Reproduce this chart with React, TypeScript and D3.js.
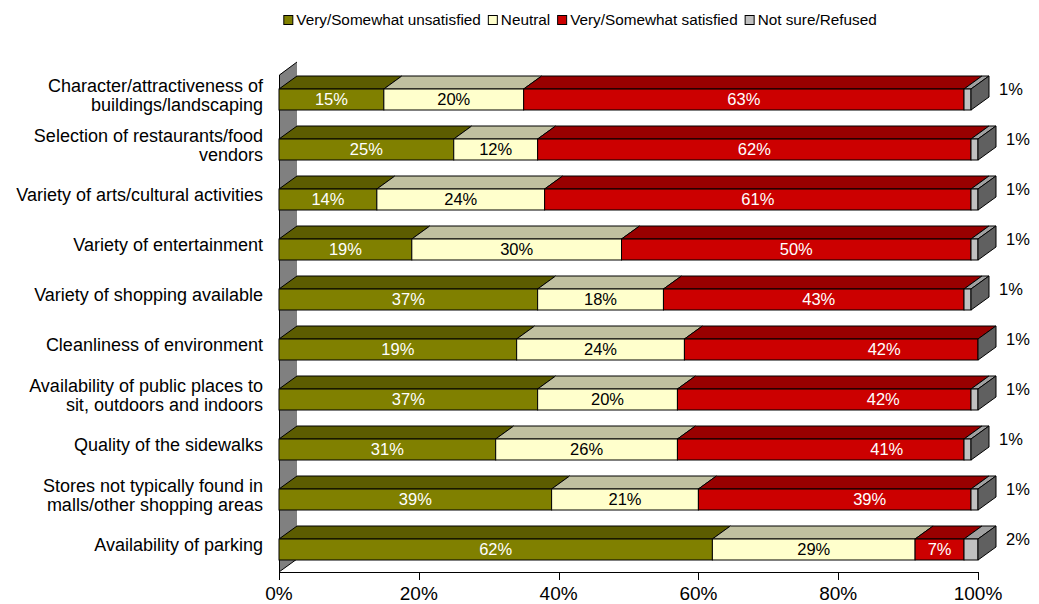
import React, { useEffect, useRef } from "react";
import * as d3 from "d3";

const categories = [
  "Character/attractiveness of\nbuildings/landscaping",
  "Selection of restaurants/food\nvendors",
  "Variety of arts/cultural activities",
  "Variety of entertainment",
  "Variety of shopping available",
  "Cleanliness of environment",
  "Availability of public places to\nsit, outdoors and indoors",
  "Quality of the sidewalks",
  "Stores not typically found in\nmalls/other shopping areas",
  "Availability of parking",
];

const seriesNames = [
  "Very/Somewhat unsatisfied",
  "Neutral",
  "Very/Somewhat satisfied",
  "Not sure/Refused",
];

// bar lengths (percent) as drawn
const unsatisfied = [15, 25, 14, 19, 37, 34, 37, 31, 39, 62];
const neutral = [20, 12, 24, 30, 18, 24, 20, 26, 21, 29];
const satisfied = [63, 62, 61, 50, 43, 42, 42, 41, 39, 7];
const notSure = [1, 1, 1, 1, 1, 0, 1, 1, 1, 2];

// data label texts as printed
const unsatisfiedLabels = ["15%", "25%", "14%", "19%", "37%", "19%", "37%", "31%", "39%", "62%"];
const neutralLabels = ["20%", "12%", "24%", "30%", "18%", "24%", "20%", "26%", "21%", "29%"];
const satisfiedLabels = ["63%", "62%", "61%", "50%", "43%", "42%", "42%", "41%", "39%", "7%"];
const notSureLabels = ["1%", "1%", "1%", "1%", "1%", "1%", "1%", "1%", "1%", "2%"];

const xTicks = [0, 20, 40, 60, 80, 100];

const W = 1039;
const H = 604;
const FONT = "'Liberation Sans', Arial, sans-serif";

export default function App() {
  const ref = useRef<SVGSVGElement>(null);

  useEffect(() => {
    const svg = d3.select(ref.current);
    svg.selectAll("*").remove();

    const x = d3.scaleLinear().domain([0, 100]).range([279, 978]);
    const y = d3.scaleBand<string>().domain(categories).range([72, 572]).paddingInner(0);
    const DX = 18;
    const DY = 13;
    const barOff = 17;
    const barH = 21;

    const front = ["#808000", "#FFFFCC", "#CC0000", "#C0C0C0"];
    const top = ["#5C5C00", "#C0C0A0", "#990000", "#A0A0A0"];
    const side = ["#404000", "#B0B090", "#800000", "#606060"];
    const labelColor = ["#FFFFFF", "#000000", "#FFFFFF", "#000000"];

    const values = [unsatisfied, neutral, satisfied, notSure];
    const labels = [unsatisfiedLabels, neutralLabels, satisfiedLabels, notSureLabels];
    // manual label nudges of the satisfied series (as placed in the original)
    const satNudge = [0, 0, 0, 0, 5, 53, 59, 66, 35, 0];

    // wall
    const x0 = x(0);
    const yTop = y.range()[0];
    const yBot = y.range()[1];
    svg
      .append("path")
      .attr("d", `M${x0},${yTop + 3}L${x0 + DX},${yTop + 3 - DY}L${x0 + DX},${yBot - DY}L${x0},${yBot}Z`)
      .attr("fill", "#808080");
    svg
      .append("path")
      .attr("d", `M${x0 + 0.5},${yBot}L${x0 + 0.5},${yTop + 3}L${x0 + DX},${yTop + 3 - DY}M${x0},${yBot}L${x0 + DX},${yBot - DY}`)
      .attr("fill", "none")
      .attr("stroke", "#000")
      .attr("stroke-width", 1);

    // axis
    const ax = svg.append("g");
    ax.append("line")
      .attr("x1", x(0))
      .attr("x2", x(100))
      .attr("y1", yBot + 0.5)
      .attr("y2", yBot + 0.5)
      .attr("stroke", "#000");
    xTicks.forEach((t) => {
      ax.append("line")
        .attr("x1", Math.round(x(t)) + 0.5)
        .attr("x2", Math.round(x(t)) + 0.5)
        .attr("y1", yBot)
        .attr("y2", yBot + 8)
        .attr("stroke", "#000");
      ax.append("text")
        .attr("x", x(t))
        .attr("y", yBot + 28)
        .attr("text-anchor", "middle")
        .attr("font-family", FONT)
        .attr("font-size", 19)
        .attr("fill", "#000")
        .text(`${t}%`);
    });

    // bars
    categories.forEach((cat, i) => {
      const ft = y(cat)! + barOff;
      const fb = ft + barH;
      let cum = 0;
      const g = svg.append("g");
      values.forEach((vals, s) => {
        const v = vals[i];
        const a = x(cum);
        const b = x(cum + v);
        cum += v;
        if (v <= 0) return;
        g.append("path")
          .attr("d", `M${a},${ft}L${a + DX},${ft - DY}L${b + DX},${ft - DY}L${b},${ft}Z`)
          .attr("fill", top[s])
          .attr("stroke", "#000")
          .attr("stroke-width", 1)
          .attr("stroke-linejoin", "round");
        g.append("rect")
          .attr("x", a)
          .attr("y", ft)
          .attr("width", b - a)
          .attr("height", barH)
          .attr("fill", front[s])
          .attr("stroke", "#000")
          .attr("stroke-width", 1);
      });
      // end side face
      const e = x(cum);
      g.append("path")
        .attr("d", `M${e},${ft}L${e + DX},${ft - DY}L${e + DX},${fb - DY}L${e},${fb}Z`)
        .attr("fill", side[3])
        .attr("stroke", "#000")
        .attr("stroke-width", 1)
        .attr("stroke-linejoin", "round");

      // labels
      cum = 0;
      values.forEach((vals, s) => {
        const v = vals[i];
        const a = x(cum);
        const b = x(cum + v);
        cum += v;
        if (s === 3) {
          g.append("text")
            .attr("x", x(cum) + DX + 22)
            .attr("y", ft)
            .attr("dy", "0.35em")
            .attr("text-anchor", "middle")
            .attr("font-family", FONT)
            .attr("font-size", 16.5)
            .attr("fill", "#000")
            .text(labels[s][i]);
          return;
        }
        const nudge = s === 2 ? satNudge[i] : 0;
        g.append("text")
          .attr("x", (a + b) / 2 + nudge)
          .attr("y", ft + barH / 2 - 0.5)
          .attr("dy", "0.35em")
          .attr("text-anchor", "middle")
          .attr("font-family", FONT)
          .attr("font-size", 16.5)
          .attr("fill", labelColor[s])
          .text(labels[s][i]);
      });

      // category label
      const lines = cat.split("\n");
      const cy = ft + barH / 2 - 4.5;
      const lh = 19.5;
      const t = svg
        .append("text")
        .attr("text-anchor", "end")
        .attr("font-family", FONT)
        .attr("font-size", 18)
        .attr("fill", "#000");
      lines.forEach((ln, k) => {
        t.append("tspan")
          .attr("x", 263)
          .attr("y", cy + (k - (lines.length - 1) / 2) * lh)
          .attr("dy", "0.35em")
          .text(ln);
      });
    });

    // legend
    const lg = svg.append("g");
    const box = 9;
    const gapBT = 4;
    const gapItems = 7;
    const ly = 20;
    let cx = 0;
    seriesNames.forEach((name, s) => {
      const it = lg.append("g").attr("transform", `translate(${cx},0)`);
      it.append("rect")
        .attr("x", 0.5)
        .attr("y", ly - box / 2)
        .attr("width", box)
        .attr("height", box)
        .attr("fill", front[s])
        .attr("stroke", "#000")
        .attr("stroke-width", 1);
      const tx = it
        .append("text")
        .attr("x", box + gapBT)
        .attr("y", ly)
        .attr("dy", "0.35em")
        .attr("font-family", FONT)
        .attr("font-size", 15.3)
        .attr("fill", "#000")
        .text(name);
      const tw = (tx.node() as SVGTextElement).getComputedTextLength();
      cx += box + gapBT + tw + gapItems;
    });
    const total = cx - gapItems;
    lg.attr("transform", `translate(${580 - total / 2},0)`);
  }, []);

  return (
    <svg
      ref={ref}
      width={W}
      height={H}
      style={{ position: "absolute", left: 0, top: 0, background: "#fff" }}
    />
  );
}
